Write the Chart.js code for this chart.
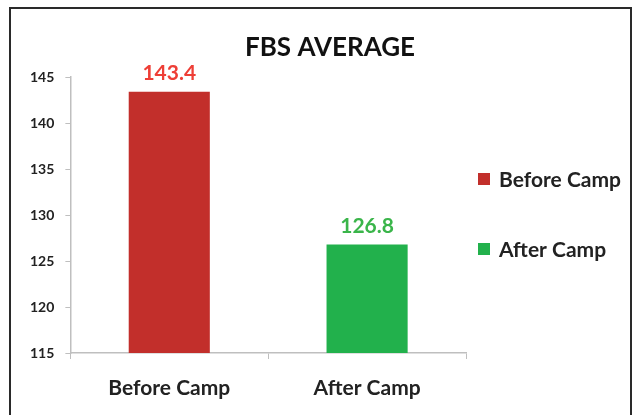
<!DOCTYPE html>
<html>
<head>
<meta charset="utf-8">
<script src="https://cdn.jsdelivr.net/npm/chart.js@4.4.1/dist/chart.umd.min.js"></script>
<style>
  html, body { margin: 0; padding: 0; background: #fff; }
  #wrap { position: relative; width: 637px; height: 415px; overflow: hidden; }
  #c { position: absolute; left: 0; top: 0; }
  #frame { position: absolute; left: 9px; top: 7px; width: 619px; height: 430px; border: 2px solid #2a2a2a; pointer-events: none; }
</style>
</head>
<body>
<div id="wrap">
  <canvas id="c" width="637" height="415"></canvas>
  <div id="frame"></div>
</div>
<script>
const titleText = "FBS AVERAGE";
const categories = ["Before Camp", "After Camp"];
const values = [143.4, 126.8];
const barColors = ["#C22F2B", "#22B14C"];
const labelColors = ["#EE3E36", "#3AB54A"];
const yTicks = [115, 120, 125, 130, 135, 140, 145];

const FONT = "Lato, 'Open Sans', sans-serif";

const extras = {
  id: 'extras',
  afterDatasetsDraw(chart) {
    const ctx = chart.ctx;
    const meta = chart.getDatasetMeta(0);
    const area = chart.chartArea;
    ctx.save();
    // title
    ctx.font = "bold 26px " + FONT;
    ctx.textAlign = "center";
    ctx.textBaseline = "middle";
    ctx.fillStyle = "#111";
    ctx.fillText(titleText, 330, 48);
    // value labels
    ctx.font = "bold 21px " + FONT;
    meta.data.forEach((bar, i) => {
      ctx.fillStyle = labelColors[i];
      ctx.fillText(values[i].toFixed(1), bar.x, bar.y - 18);
    });
    // legend
    const midY = (area.top + area.bottom) / 2;
    const ys = [midY - 36, midY + 34];
    ctx.textAlign = "left";
    categories.forEach((c, i) => {
      ctx.fillStyle = barColors[i];
      ctx.fillRect(478, ys[i] - 6, 12, 12);
      ctx.fillStyle = "#222";
      ctx.fillText(c, 499, ys[i] + 1);
    });
    ctx.restore();
  }
};

new Chart(document.getElementById('c'), {
  type: 'bar',
  data: {
    labels: categories,
    datasets: [{
      label: titleText,
      data: values,
      backgroundColor: barColors,
      borderWidth: 0,
      barPercentage: 0.41,
      categoryPercentage: 1.0
    }]
  },
  options: {
    responsive: false,
    animation: false,
    layout: { padding: { left: 19, right: 171, top: 77, bottom: -3 } },
    plugins: {
      legend: { display: false },
      tooltip: { enabled: false },
      title: { display: false }
    },
    scales: {
      x: {
        grid: { display: true, drawOnChartArea: false, drawTicks: true, tickLength: 6, color: "#BFBFBF", offset: true },
        border: { display: true, color: "#BFBFBF", width: 1.5 },
        ticks: { color: "#222", font: { family: FONT, size: 21, weight: 'bold', lineHeight: 1.0 }, padding: 19 }
      },
      y: {
        min: 115,
        max: 145,
        afterBuildTicks(scale) { scale.ticks = yTicks.map(v => ({ value: v })); },
        grid: { display: true, drawOnChartArea: false, drawTicks: true, tickLength: 5, color: "#BFBFBF" },
        border: { display: true, color: "#BFBFBF", width: 1.5 },
        ticks: { color: "#222", font: { family: FONT, size: 14, weight: 'bold' }, padding: 11 }
      }
    }
  },
  plugins: [extras]
});
</script>
</body>
</html>
